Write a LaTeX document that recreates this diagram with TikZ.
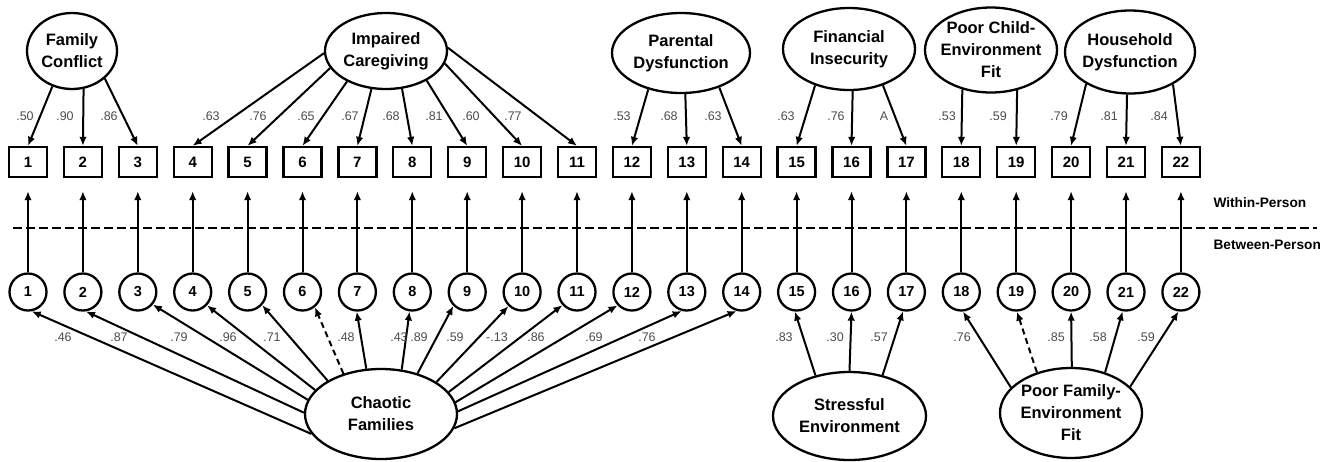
\documentclass[tikz,border=0pt]{standalone}
\usepackage{fontspec}
\setmainfont{Liberation Sans}
\usetikzlibrary{shapes.geometric,arrows.meta}

\begin{document}
\begin{tikzpicture}[x=1pt,y=-1pt, >={Latex[length=9pt,width=7.5pt]},
  ind/.style={draw, line width=2.3pt, minimum width=38pt, minimum height=30pt, inner sep=0pt, font=\bfseries\fontsize{15}{15}\selectfont},
  res/.style={draw, circle, line width=2.3pt, minimum size=37pt, inner sep=0pt, font=\bfseries\fontsize{14.5}{14.5}\selectfont},
  lat/.style={draw, ellipse, line width=2.3pt, inner sep=0pt},
  lattext/.style={align=center, font=\bfseries\fontsize{16.5}{22}\selectfont},
  load/.style={text=black!70, font=\fontsize{12.5}{12.5}\selectfont},
  level/.style={anchor=west, font=\bfseries\fontsize{13.7}{13.7}\selectfont},
  arr/.style={->, line width=2pt},
  arrdash/.style={arr, dash pattern=on 6pt off 4pt}]
  \useasboundingbox (0,0) rectangle (1329,461);
  %% within-person factors
  \node[lat, minimum width=90pt, minimum height=76pt, label={[lattext]center:Family\\Conflict}] (fc) at (72,51) {};
  \node[lat, minimum width=122pt, minimum height=76pt, label={[lattext]center:Impaired\\Caregiving}] (ic) at (386,51) {};
  \node[lat, minimum width=138pt, minimum height=80pt, label={[lattext]center:Parental\\Dysfunction}] (pd) at (681,53) {};
  \node[lat, minimum width=132pt, minimum height=82pt, label={[lattext]center:Financial\\Insecurity}] (fi) at (849,49) {};
  \node[lat, minimum width=132pt, minimum height=85pt, label={[lattext]center:Poor Child-\\Environment\\Fit}] (pc) at (991,50) {};
  \node[lat, minimum width=130pt, minimum height=83pt, label={[lattext]center:Household\\Dysfunction}] (hd) at (1130,52) {};
  %% between-person factors
  \node[lat, minimum width=152pt, minimum height=90pt, label={[lattext]center:Chaotic\\Families}] (cf) at (381,414) {};
  \node[lat, minimum width=153pt, minimum height=88pt, label={[lattext]center:Stressful\\Environment}] (se) at (849.5,416) {};
  \node[lat, minimum width=142pt, minimum height=90pt, label={[lattext]center:Poor Family-\\Environment\\Fit}] (pf) at (1071,413) {};
  %% indicators and their between-person parts
  \foreach \i in {1,...,22} {
    \pgfmathsetmacro\xx{28+54.9*(\i-1)}
    \node[ind] (b\i) at (\xx,162) {\i};
    \node[res] (c\i) at (\xx,292) {\i};
    \draw[arr, shorten >=13pt] (c\i) -- (b\i); }
  %% level divider
  \coordinate (divl) at (13,228);
  \coordinate (divr) at (1317,228);
  \draw[line width=2.2pt, dash pattern=on 9pt off 4pt] (divl) -- (divr);
  \node[level] (within) at (1210,203) {Within-Person};
  \node[level] (between) at (1210,245) {Between-Person};
  %% within-person loadings
  \foreach \l/\a/\i/\x/\t in {fc/241/1/25/.50, fc/287/2/65/.90, fc/320/3/109/.86,
      ic/182/4/211/.63, ic/197/5/258/.76, ic/218/6/306/.65, ic/249/7/350/.67,
      ic/293/8/391/.68, ic/324/9/434/.81, ic/348/10/471/.60, ic/3/11/513/.77,
      pd/228/12/622/.53, pd/276/13/669/.68, pd/318/14/713/.63,
      fi/227/15/786/.63, fi/275/16/836/.76, fi/313/17/884/A,
      pc/234/18/947/.53, pc/303/19/998/.59,
      hd/216/20/1059/.79, hd/266/21/1109/.81, hd/323/22/1159/.84} {
    \draw[arr] (\l.\a) -- (b\i.north);
    \node[load] (t\i) at (\x,116) {\t}; }
  %% between-person loadings
  \foreach \l/\a/\i/\e in {cf/196/1/281, cf/179/2/279, cf/169/3/320, cf/160/4/317,
      cf/148/5/318, cf/108/7/268, cf/65/8/262, cf/48/9/225, cf/30/10/226,
      cf/18/11/222, cf/9/12/223, cf/2/13/255, cf/349/14/255,
      se/130/15/265, se/90/16/270, se/51/17/260,
      pf/157/18/275, pf/89/20/270, pf/50/21/260, pf/24/22/263}
    \draw[arr] (\l.\a) -- (c\i.\e);
  \draw[arrdash] (cf.133) -- (c6.309);
  \draw[arrdash] (pf.130) -- (c19.272);
  \foreach \i/\x/\t in {1/63/.46, 2/119/.87, 3/179/.79, 4/228/.96, 5/272/.71,
      7/346/.48, 8/399/.43, 9/419/.89, 10/455/.59, 11/497/-.13, 12/536/.86,
      13/594/.69, 14/647/.76, 15/784/.83, 16/835/.30, 17/879/.57,
      18/962/.76, 20/1056/.85, 21/1098/.58, 22/1146/.59}
    \node[load] (u\i) at (\x,337) {\t};
\end{tikzpicture}
\end{document}
